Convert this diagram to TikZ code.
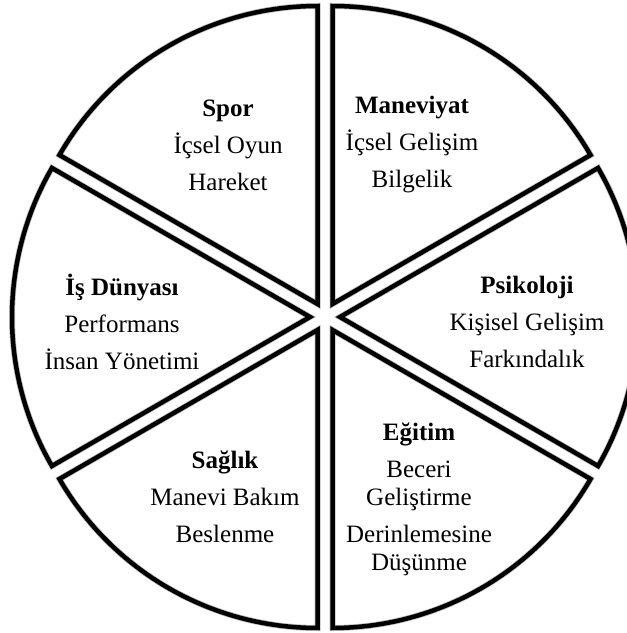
\documentclass[tikz,border=0pt]{standalone}
\usepackage{fontspec}
\setmainfont{Liberation Serif}
\usetikzlibrary{calc}

\begin{document}
\begin{tikzpicture}[x=1pt,y=1pt,
		slice/.style={draw=black,line width=4.5pt},
		shade/.style={draw=black!25,line width=6pt,shift={(1.5,-1.5)}},
		lbl/.style={align=center,font=\fontsize{25}{28}\selectfont}
	]
	\useasboundingbox (0,0) rectangle (627,633);
	\clip (0,0) rectangle (627,633);
	\coordinate (c) at (325,316);
	% soft shadow under the wedges
	\draw[shade] ($(c)+(60:15)$) -- ++(30:298) arc[start angle=30,end angle=90,radius=298] -- cycle;
	\draw[shade] ($(c)+(120:15)$) -- ++(90:298) arc[start angle=90,end angle=150,radius=298] -- cycle;
	\draw[shade] ($(c)+(180:15)$) -- ++(150:298) arc[start angle=150,end angle=210,radius=298] -- cycle;
	\draw[shade] ($(c)+(240:15)$) -- ++(210:298) arc[start angle=210,end angle=270,radius=298] -- cycle;
	\draw[shade] ($(c)+(300:15)$) -- ++(270:298) arc[start angle=270,end angle=330,radius=298] -- cycle;
	\draw[shade] ($(c)+(0:15)$) -- ++(330:298) arc[start angle=330,end angle=390,radius=298] -- cycle;
	% six wedges, pulled apart a little from the centre
	\draw[slice] ($(c)+(60:15)$) -- ++(30:298) arc[start angle=30,end angle=90,radius=298] -- cycle;
	\draw[slice] ($(c)+(120:15)$) -- ++(90:298) arc[start angle=90,end angle=150,radius=298] -- cycle;
	\draw[slice] ($(c)+(180:15)$) -- ++(150:298) arc[start angle=150,end angle=210,radius=298] -- cycle;
	\draw[slice] ($(c)+(240:15)$) -- ++(210:298) arc[start angle=210,end angle=270,radius=298] -- cycle;
	\draw[slice] ($(c)+(300:15)$) -- ++(270:298) arc[start angle=270,end angle=330,radius=298] -- cycle;
	\draw[slice] ($(c)+(0:15)$) -- ++(330:298) arc[start angle=330,end angle=390,radius=298] -- cycle;
	% labels
	\node[lbl] (spor) at (228,488) {\textbf{Spor}\\[9pt]İçsel Oyun\\[9pt]Hareket};
	\node[lbl] (manev) at (412,488) {\textbf{Maneviyat}\\[9pt]İçsel Gelişim\\[9pt]Bilgelik};
	\node[lbl] (is) at (122,311) {\textbf{İş Dünyası}\\[9pt]Performans\\[9pt]İnsan Yönetimi};
	\node[lbl] (psiko) at (527,311) {\textbf{Psikoloji}\\[9pt]Kişisel Gelişim\\[9pt]Farkındalık};
	\node[lbl] (saglik) at (225,136) {\textbf{Sağlık}\\[9pt]Manevi Bakım\\[9pt]Beslenme};
	\node[lbl] (egitim) at (419,134) {\textbf{Eğitim}\\[9pt]Beceri\\Geliştirme\\[9pt]Derinlemesine\\Düşünme};
\end{tikzpicture}
\end{document}
